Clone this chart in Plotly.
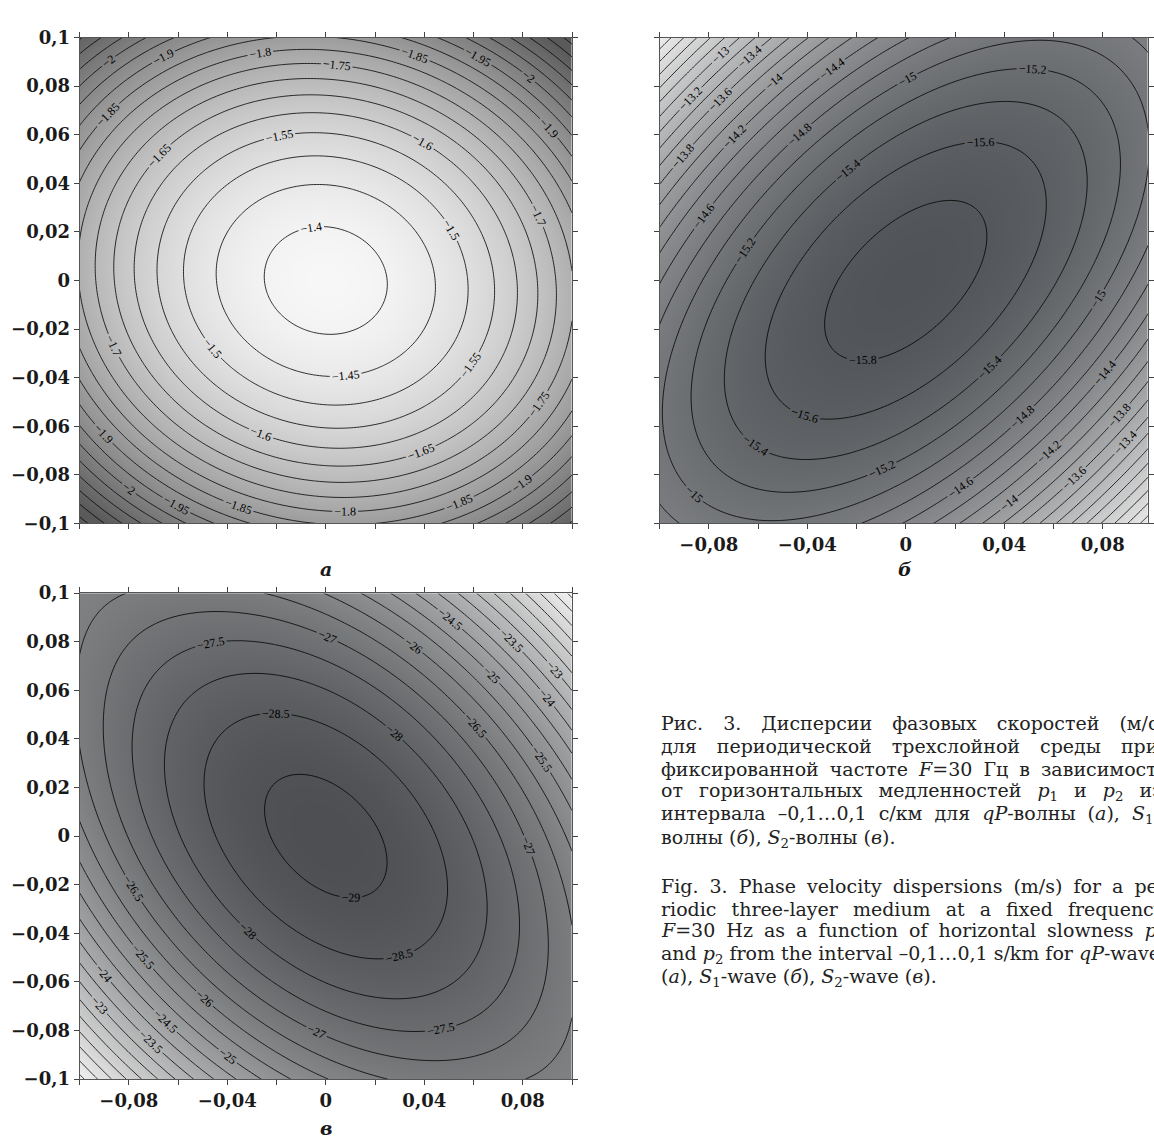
import numpy as np
import plotly.graph_objects as go

W, H = 1154, 1146

# ---- slowness axes (s/km) ----
p_lo, p_hi = -0.1, 0.1
tick_vals = [-0.1, -0.08, -0.06, -0.04, -0.02, 0.0, 0.02, 0.04, 0.06, 0.08, 0.1]
y_tick_text = ["\u22120,1", "\u22120,08", "\u22120,06", "\u22120,04", "\u22120,02", "0",
               "0,02", "0,04", "0,06", "0,08", "0,1"]
x_tick_text = ["", "\u22120,08", "", "\u22120,04", "", "0", "", "0,04", "", "0,08", ""]

# ---- surfaces read from the contour maps:
#      [centre, c_xx, c_yy, c_xy, c_v6]  with v = (x - y)/sqrt(2)
qp_coef = [-1.377, -37.0, -47.0, -6.0, 0.0]          # panel a, qP-wave
s1_coef = [-15.90, 132.0, 132.0, -145.2, 0.0]        # panel б, S1-wave
s2_coef = [-29.17, 335.0, 321.0, 278.4, -110000.0]   # panel в, S2-wave

# contour levels [start, end, step]
qp_levels = [-2.3, -1.4, 0.05]
s1_levels = [-15.8, -11.0, 0.2]
s2_levels = [-29.0, -19.5, 0.5]

# grey ramps [zmin, zmax]
qp_crange = [-2.2, -1.377]
s1_crange = [-15.9, -11.8]
s2_crange = [-29.2, -19.9]

panel_letters = ["а", "б", "в"]

caption_ru = [
    "Рис. 3. Дисперсии фазовых скоростей (м/с)",
    "для периодической трехслойной среды при",
    "фиксированной частоте <i>F</i>=30 Гц в зависимости",
    "от горизонтальных медленностей <i>p</i><sub>1</sub> и <i>p</i><sub>2</sub> из",
    "интервала –0,1…0,1 с/км для <i>qP</i>-волны (<i>а</i>), <i>S</i><sub>1</sub>-",
    "волны (<i>б</i>), <i>S</i><sub>2</sub>-волны (<i>в</i>).",
]
caption_en = [
    "Fig. 3. Phase velocity dispersions (m/s) for a pe-",
    "riodic three-layer medium at a fixed frequency",
    "<i>F</i>=30 Hz as a function of horizontal slowness <i>p</i><sub>1</sub>",
    "and <i>p</i><sub>2</sub> from the interval –0,1…0,1 s/km for <i>qP</i>-wave",
    "(<i>а</i>), <i>S</i><sub>1</sub>-wave (<i>б</i>), <i>S</i><sub>2</sub>-wave (<i>в</i>).",
]
# extra word spacing (px) imitating the justified column
ru_spacing = [14, 14, 5, 10, 6, 0]
en_spacing = [5, 9, 5, 0, 0]

# ---- grid ----
g = np.linspace(p_lo, p_hi, 161)
X, Y = np.meshgrid(g, g)
V = (X - Y) / np.sqrt(2.0)


def surface(c):
    return c[0] + c[1] * X ** 2 + c[2] * Y ** 2 + c[3] * X * Y + c[4] * V ** 6


def contour(coef, levels, crange, dark, light, fmt, xa, ya):
    return go.Contour(
        x=g, y=g, z=surface(coef),
        xaxis=xa, yaxis=ya,
        colorscale=[[0, dark], [1, light]],
        zmin=crange[0], zmax=crange[1], zauto=False,
        showscale=False,
        contours=dict(start=levels[0], end=levels[1], size=levels[2],
                      coloring="heatmap", showlabels=True,
                      labelformat=fmt,
                      labelfont=dict(family="Liberation Serif", size=12, color="black")),
        line=dict(color="black", width=0.8, smoothing=1),
        hoverinfo="skip",
    )


fig = go.Figure()
fig.add_trace(contour(qp_coef, qp_levels, qp_crange, "#5a5a5a", "#f7f7f7", ".2~f", "x", "y"))
fig.add_trace(contour(s1_coef, s1_levels, s1_crange, "#505357", "#ededed", ".1~f", "x2", "y2"))
fig.add_trace(contour(s2_coef, s2_levels, s2_crange, "#4c4e51", "#f0f0f0", ".1~f", "x3", "y3"))

tickfont = dict(family="DejaVu Serif", size=18, color="#1a1a1a", weight="bold")


def axis(domain, rng, text, show, anchor):
    return dict(domain=domain, range=rng, anchor=anchor,
                tickmode="array", tickvals=tick_vals, ticktext=text,
                showticklabels=show, ticks="outside", ticklen=5, tickwidth=1,
                tickcolor="#444", showline=True, linecolor="#555", linewidth=1,
                mirror="allticks", showgrid=False, zeroline=False,
                tickfont=tickfont, fixedrange=True)


xa_dom = [80 / W, 575 / W]
xb_dom = [663 / W, 1.0]
yt_dom = [1 - 522 / H, 1 - 27 / H]
yb_dom = [1 - 1088 / H, 1 - 593 / H]
xb_hi = p_hi - (p_hi - p_lo) * (1158 - W) / 495

fig.update_layout(
    width=W, height=H, autosize=False,
    margin=dict(l=0, r=0, t=0, b=0),
    paper_bgcolor="white", plot_bgcolor="white",
    showlegend=False,
    xaxis=axis(xa_dom, [p_lo, p_hi], x_tick_text, False, "y"),
    yaxis=axis(yt_dom, [p_lo, p_hi], y_tick_text, True, "x"),
    xaxis2=axis(xb_dom, [p_lo, xb_hi], x_tick_text, True, "y2"),
    yaxis2=axis(yt_dom, [p_lo, p_hi], y_tick_text, False, "x2"),
    xaxis3=axis(xa_dom, [p_lo, p_hi], x_tick_text, True, "y3"),
    yaxis3=axis(yb_dom, [p_lo, p_hi], y_tick_text, True, "x3"),
)

ann = []
letter_pos = [(328, 568), (910, 568), (328, 1138)]
for letter, (px, py) in zip(panel_letters, letter_pos):
    ann.append(dict(xref="paper", yref="paper", x=px / W, y=1 - py / H,
                    text=f"<b><i>{letter}</i></b>", showarrow=False,
                    xanchor="center", yanchor="middle",
                    font=dict(family="DejaVu Serif", size=19, color="#1a1a1a")))

cap_font = dict(family="DejaVu Serif", size=19, color="#222")


def caption(lines, spacing, y0):
    for i, (line, ws) in enumerate(zip(lines, spacing)):
        ann.append(dict(xref="paper", yref="paper", x=662 / W, y=1 - (y0 + 23.5 * i) / H,
                        text=f'<span style="word-spacing:{ws}px">{line}</span>',
                        showarrow=False, xanchor="left", yanchor="middle",
                        font=cap_font))


caption(caption_ru, ru_spacing, 725)
caption(caption_en, en_spacing, 891)
fig.update_layout(annotations=ann)

fig.write_html("out.html", config={"displayModeBar": False},
               post_script="document.body.style.margin='0';")
